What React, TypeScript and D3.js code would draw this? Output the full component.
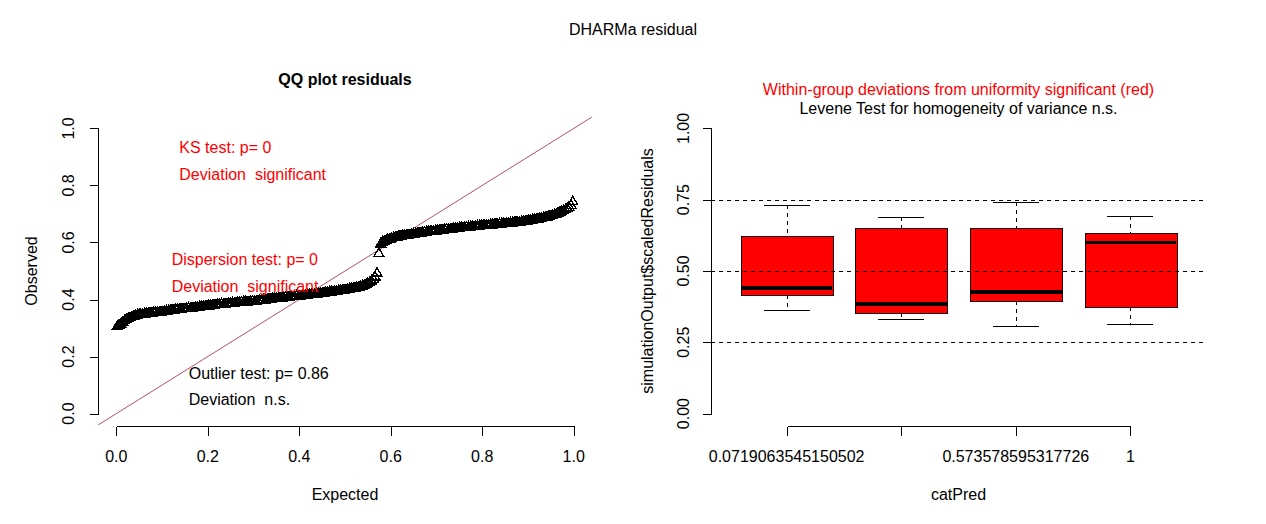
import React from "react";
import * as d3 from "d3";

// ---------- DATA ----------
// Sorted scaled residuals (observed) (250 points)
const observed: number[] = [
  0.305, 0.309, 0.314, 0.320, 0.325, 0.329, 0.332, 0.336, 0.339, 0.341,
  0.343, 0.345, 0.346, 0.347, 0.348, 0.349, 0.350, 0.351, 0.352, 0.352,
  0.353, 0.354, 0.354, 0.355, 0.356, 0.357, 0.358, 0.359, 0.360, 0.361,
  0.362, 0.363, 0.364, 0.364, 0.365, 0.366, 0.367, 0.367, 0.368, 0.369,
  0.369, 0.370, 0.371, 0.372, 0.372, 0.373, 0.374, 0.375, 0.375, 0.376,
  0.377, 0.378, 0.379, 0.380, 0.381, 0.381, 0.382, 0.383, 0.383, 0.384,
  0.385, 0.385, 0.386, 0.387, 0.387, 0.388, 0.389, 0.389, 0.390, 0.390,
  0.391, 0.391, 0.392, 0.392, 0.393, 0.393, 0.394, 0.395, 0.396, 0.397,
  0.398, 0.398, 0.399, 0.400, 0.401, 0.402, 0.402, 0.403, 0.404, 0.405,
  0.405, 0.406, 0.407, 0.407, 0.408, 0.409, 0.409, 0.410, 0.411, 0.411,
  0.412, 0.413, 0.413, 0.414, 0.415, 0.416, 0.417, 0.417, 0.418, 0.419,
  0.420, 0.421, 0.421, 0.422, 0.423, 0.424, 0.425, 0.426, 0.427, 0.428,
  0.429, 0.430, 0.431, 0.432, 0.433, 0.434, 0.435, 0.436, 0.437, 0.438,
  0.440, 0.441, 0.443, 0.445, 0.447, 0.449, 0.452, 0.455, 0.459, 0.464,
  0.470, 0.478, 0.492, 0.561, 0.594, 0.600, 0.604, 0.607, 0.610, 0.612,
  0.614, 0.616, 0.618, 0.619, 0.621, 0.622, 0.623, 0.624, 0.625, 0.626,
  0.627, 0.628, 0.629, 0.630, 0.631, 0.632, 0.633, 0.634, 0.635, 0.636,
  0.637, 0.638, 0.638, 0.639, 0.640, 0.641, 0.641, 0.642, 0.643, 0.644,
  0.645, 0.645, 0.646, 0.647, 0.648, 0.649, 0.649, 0.650, 0.651, 0.651,
  0.652, 0.653, 0.653, 0.654, 0.655, 0.655, 0.656, 0.657, 0.657, 0.658,
  0.659, 0.659, 0.660, 0.660, 0.661, 0.661, 0.662, 0.663, 0.663, 0.664,
  0.664, 0.665, 0.665, 0.666, 0.667, 0.667, 0.668, 0.669, 0.670, 0.670,
  0.671, 0.672, 0.673, 0.674, 0.675, 0.676, 0.677, 0.678, 0.679, 0.680,
  0.681, 0.683, 0.684, 0.686, 0.687, 0.689, 0.691, 0.693, 0.695, 0.697,
  0.699, 0.702, 0.705, 0.708, 0.711, 0.714, 0.718, 0.723, 0.730, 0.742,
];

const qqTicks = [0, 0.2, 0.4, 0.6, 0.8, 1.0];
const boxYTicks = [0, 0.25, 0.5, 0.75, 1.0];
const refLines = [0.25, 0.5, 0.75];

const boxCategories = ["0.0719063545150502", "", "0.573578595317726", "1"];
const whiskerLow = [0.363, 0.331, 0.307, 0.314];
const quart1 = [0.4155, 0.352, 0.394, 0.373];
const medians = [0.44, 0.384, 0.426, 0.6];
const quart3 = [0.622, 0.65, 0.65, 0.632];
const whiskerHigh = [0.73, 0.688, 0.741, 0.692];

const mainTitle = "DHARMa residual";
const qqTitle = "QQ plot residuals";
const boxTitle1 = "Within-group deviations from uniformity significant (red)";
const boxTitle2 = "Levene Test for homogeneity of variance n.s.";
const ksLines = ["KS test: p= 0", "Deviation  significant"];
const dispLines = ["Dispersion test: p= 0", "Deviation  significant"];
const outLines = ["Outlier test: p= 0.86", "Deviation  n.s."];

// ---------- LAYOUT ----------
const W = 1266;
const H = 524;
const FONT = "'Liberation Sans', Arial, Helvetica, sans-serif";
const TOP = 117;
const BOT = 425;
const L1 = 98, R1 = 592;
const L2 = 711, R2 = 1206;

export default function App() {
  const n = observed.length;
  const expected = observed.map((_, i) => (i + 0.5) / n);

  const x1 = d3.scaleLinear().domain([-0.04, 1.04]).range([L1, R1]);
  const y = d3.scaleLinear().domain([-0.04, 1.04]).range([BOT, TOP]);
  const x2 = d3.scaleLinear().domain([0.34, 4.66]).range([L2, R2]);
  const fmt1 = d3.format(".1f");
  const fmt2 = d3.format(".2f");

  const r = (v: number) => Math.round(v) + 0.5;
  const tri = "M0,-5.6L4.85,2.8L-4.85,2.8Z";
  const boxHalf = x2(1.4) - x2(1);
  const capHalf = boxHalf / 2;
  const abline = d3.line<number>().x((d) => x1(d)).y((d) => y(d));

  const axisY = (xPos: number, ticks: number[], fmt: (v: number) => string, labelX: number) => (
    <g>
      <line x1={r(xPos)} x2={r(xPos)} y1={r(y(ticks[0]))} y2={r(y(ticks[ticks.length - 1]))} stroke="#000" />
      {ticks.map((t) => (
        <g key={t}>
          <line x1={r(xPos) - 9} x2={r(xPos)} y1={r(y(t))} y2={r(y(t))} stroke="#000" />
          <text
            transform={`translate(${labelX},${y(t)}) rotate(-90)`}
            textAnchor="middle"
            dominantBaseline="central"
            fontSize={16}
          >
            {fmt(t)}
          </text>
        </g>
      ))}
    </g>
  );

  return (
    <svg
      width={W}
      height={H}
      style={{ position: "absolute", left: 0, top: 0, background: "#fff" }}
      fontFamily={FONT}
    >
      <defs>
        <clipPath id="qqclip">
          <rect x={L1} y={TOP} width={R1 - L1} height={BOT - TOP} />
        </clipPath>
      </defs>
      <rect x={0} y={0} width={W} height={H} fill="#fff" />
      <text x={633} y={35} textAnchor="middle" fontSize={16}>{mainTitle}</text>

      {/* ---------- QQ plot ---------- */}
      <text x={(L1 + R1) / 2} y={85} textAnchor="middle" fontSize={16} fontWeight="bold">{qqTitle}</text>
      <g clipPath="url(#qqclip)">
        <path d={abline([-0.04, 1.04]) || ""} stroke="#b5506e" strokeWidth={1} fill="none" />
      </g>
      <g shapeRendering="crispEdges">
        {observed.map((v, i) => (
          <path key={i} d={tri} transform={`translate(${x1(expected[i])},${y(v)})`} fill="none" stroke="#000" strokeWidth={1.4} />
        ))}
      </g>
      <g shapeRendering="crispEdges">
        {axisY(L1 - 0.5, qqTicks, fmt1, 68.5)}
        <line x1={r(x1(0))} x2={r(x1(1))} y1={426.5} y2={426.5} stroke="#000" />
        {qqTicks.map((t) => (
          <line key={t} x1={r(x1(t))} x2={r(x1(t))} y1={426.5} y2={435.5} stroke="#000" />
        ))}
      </g>
      {qqTicks.map((t) => (
        <text key={t} x={x1(t)} y={461.5} textAnchor="middle" fontSize={16}>{fmt1(t)}</text>
      ))}
      <text x={(L1 + R1) / 2} y={500} textAnchor="middle" fontSize={16}>Expected</text>
      <text transform={`translate(31.7,${(TOP + BOT) / 2}) rotate(-90)`} textAnchor="middle" dominantBaseline="central" fontSize={16}>Observed</text>

      <g fontSize={16} style={{ whiteSpace: "pre" }}>
        {ksLines.map((s, i) => (
          <text key={s + i} x={179.3} y={152.5 + i * 27.3} fill="#ff0000" xmlSpace="preserve">{s}</text>
        ))}
        {dispLines.map((s, i) => (
          <text key={s + i} x={171.7} y={265.3 + i * 26.7} fill="#ff0000" xmlSpace="preserve">{s}</text>
        ))}
        {outLines.map((s, i) => (
          <text key={s + i} x={188.7} y={378.7 + i * 26.7} fill="#000" xmlSpace="preserve">{s}</text>
        ))}
      </g>

      {/* ---------- Boxplot ---------- */}
      <text x={(L2 + R2) / 2} y={95} textAnchor="middle" fontSize={16} fill="#ff0000">{boxTitle1}</text>
      <text x={(L2 + R2) / 2} y={114} textAnchor="middle" fontSize={16}>{boxTitle2}</text>

      <g shapeRendering="crispEdges">
        {boxCategories.map((c, i) => {
          const cx = x2(i + 1);
          return (
            <g key={i}>
              <line x1={r(cx)} x2={r(cx)} y1={y(whiskerHigh[i])} y2={y(quart3[i])} stroke="#000" strokeDasharray="4,4" />
              <line x1={r(cx)} x2={r(cx)} y1={y(quart1[i])} y2={y(whiskerLow[i])} stroke="#000" strokeDasharray="4,4" />
              <line x1={cx - capHalf} x2={cx + capHalf} y1={r(y(whiskerHigh[i]))} y2={r(y(whiskerHigh[i]))} stroke="#000" />
              <line x1={cx - capHalf} x2={cx + capHalf} y1={r(y(whiskerLow[i]))} y2={r(y(whiskerLow[i]))} stroke="#000" />
              <rect
                x={r(cx - boxHalf)}
                y={r(y(quart3[i]))}
                width={Math.round(2 * boxHalf)}
                height={Math.round(y(quart1[i]) - y(quart3[i]))}
                fill="#ff0000"
                stroke="#1a0000"
              />
              <line x1={cx - boxHalf} x2={cx + boxHalf} y1={y(medians[i])} y2={y(medians[i])} stroke="#000" strokeWidth={3.3} />
            </g>
          );
        })}
        {refLines.map((v) => (
          <line key={v} x1={L2} x2={R2} y1={r(y(v))} y2={r(y(v))} stroke="#000" strokeDasharray="4,4" />
        ))}
        {axisY(L2, boxYTicks, fmt2, 683.5)}
        <line x1={r(x2(1))} x2={r(x2(4))} y1={426.5} y2={426.5} stroke="#000" />
        {boxCategories.map((_, i) => (
          <line key={i} x1={r(x2(i + 1))} x2={r(x2(i + 1))} y1={426.5} y2={435.5} stroke="#000" />
        ))}
      </g>
      {boxCategories.map((c, i) => (
        <text key={i} x={x2(i + 1)} y={461.5} textAnchor="middle" fontSize={16}>{c}</text>
      ))}
      <text x={(L2 + R2) / 2} y={500} textAnchor="middle" fontSize={16}>catPred</text>
      <text transform={`translate(647.5,${(TOP + BOT) / 2}) rotate(-90)`} textAnchor="middle" dominantBaseline="central" fontSize={16}>simulationOutput$scaledResiduals</text>
    </svg>
  );
}
